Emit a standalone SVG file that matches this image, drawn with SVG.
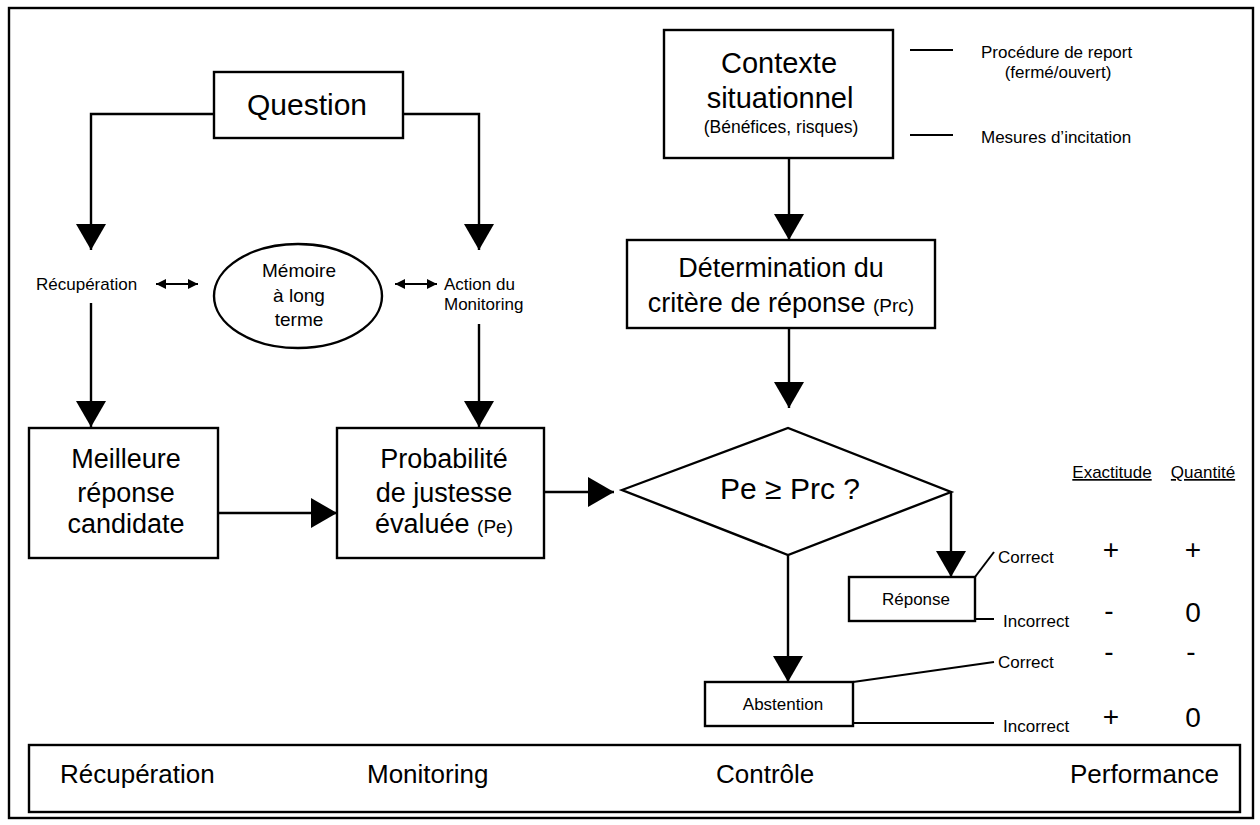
<svg xmlns="http://www.w3.org/2000/svg" width="1260" height="825" viewBox="0 0 1260 825">
<style>
text{font-family:"Liberation Sans",Arial,sans-serif;fill:#000}
.box{fill:#fff;stroke:#000;stroke-width:2.4}
.ln{fill:none;stroke:#000;stroke-width:2.4}
.thin{fill:none;stroke:#000;stroke-width:2}
.big{font-size:27px;text-anchor:middle}
.sm{font-size:17px}
.smc{font-size:17px;text-anchor:middle}
.val{font-size:28px;text-anchor:middle}
.bar{font-size:26px}
</style>
<defs>
<marker id="ah" viewBox="0 0 26 30" refX="26" refY="15" markerWidth="26" markerHeight="30" markerUnits="userSpaceOnUse" orient="auto">
<path d="M0,0 L26,15 L0,30 Z" fill="#000"/>
</marker>
<marker id="sa" viewBox="0 0 10 10" refX="10" refY="5" markerWidth="10" markerHeight="10" markerUnits="userSpaceOnUse" orient="auto-start-reverse">
<path d="M0,0 L10,5 L0,10 Z" fill="#000"/>
</marker>
</defs>
<rect x="0" y="0" width="1260" height="825" fill="#fff"/>
<rect x="9" y="8" width="1244" height="810" fill="none" stroke="#000" stroke-width="2.4"/>

<g id="connectors">
<polyline class="ln" points="214,114 91,114 91,250" marker-end="url(#ah)"/>
<polyline class="ln" points="403,114 479,114 479,250" marker-end="url(#ah)"/>
<line class="ln" x1="91" y1="303" x2="91" y2="427" marker-end="url(#ah)"/>
<line class="ln" x1="479" y1="324" x2="479" y2="427" marker-end="url(#ah)"/>
<line class="thin" x1="156" y1="284" x2="198" y2="284" marker-start="url(#sa)" marker-end="url(#sa)"/>
<line class="thin" x1="395" y1="284" x2="437" y2="284" marker-start="url(#sa)" marker-end="url(#sa)"/>
<line class="ln" x1="218" y1="513" x2="337" y2="513" marker-end="url(#ah)"/>
<line class="ln" x1="544" y1="492" x2="614" y2="492" marker-end="url(#ah)"/>
<line class="ln" x1="789" y1="158" x2="789" y2="240" marker-end="url(#ah)"/>
<line class="ln" x1="789" y1="328" x2="789" y2="408" marker-end="url(#ah)"/>
<polyline class="ln" points="951,492 951,577" marker-end="url(#ah)"/>
<line class="ln" x1="788" y1="555" x2="788" y2="682" marker-end="url(#ah)"/>
<line class="thin" x1="910" y1="50" x2="953" y2="50"/>
<line class="thin" x1="910" y1="135" x2="953" y2="135"/>
<line class="thin" x1="975" y1="577" x2="994" y2="552"/>
<line class="thin" x1="975" y1="619" x2="994" y2="619"/>
<line class="thin" x1="853" y1="682" x2="994" y2="662"/>
<line class="thin" x1="853" y1="723" x2="994" y2="723"/>
</g>

<g id="question">
<rect class="box" x="214" y="72" width="189" height="66"/>
<text x="307" y="115" font-size="30" text-anchor="middle">Question</text>
</g>

<g id="recuperation-label">
<text class="sm" x="36" y="290">Récupération</text>
</g>

<g id="memoire">
<ellipse class="box" cx="298" cy="296" rx="84" ry="52"/>
<text x="299" y="277" font-size="19" text-anchor="middle">Mémoire</text>
<text x="299" y="302" font-size="19" text-anchor="middle">à long</text>
<text x="299" y="326" font-size="19" text-anchor="middle">terme</text>
</g>

<g id="action-label">
<text class="sm" x="444" y="290">Action du</text>
<text class="sm" x="444" y="310">Monitoring</text>
</g>

<g id="meilleure">
<rect class="box" x="29" y="428" width="189" height="130"/>
<text class="big" x="126" y="468">Meilleure</text>
<text class="big" x="126" y="502">réponse</text>
<text class="big" x="126" y="533">candidate</text>
</g>

<g id="probabilite">
<rect class="box" x="337" y="428" width="207" height="130"/>
<text class="big" x="444" y="468">Probabilité</text>
<text class="big" x="444" y="502">de justesse</text>
<text class="big" x="444" y="533">évaluée <tspan font-size="19">(Pe)</tspan></text>
</g>

<g id="contexte">
<rect class="box" x="664" y="30" width="229" height="128"/>
<text x="779" y="73" font-size="29" text-anchor="middle">Contexte</text>
<text x="780" y="108" font-size="29" text-anchor="middle">situationnel</text>
<text x="781" y="133" font-size="17.5" text-anchor="middle">(Bénéfices, risques)</text>
</g>

<g id="contexte-notes">
<text class="sm" x="981" y="58">Procédure de report</text>
<text class="smc" x="1058" y="78">(fermé/ouvert)</text>
<text class="sm" x="981" y="143">Mesures d’incitation</text>
</g>

<g id="determination">
<rect class="box" x="627" y="240" width="308" height="88"/>
<text class="big" x="781" y="277">Détermination du</text>
<text class="big" x="781" y="312">critère de réponse <tspan font-size="19">(Prc)</tspan></text>
</g>

<g id="decision">
<polygon class="box" points="622,490 788,428 951,492 788,555"/>
<text x="790" y="499" font-size="30" text-anchor="middle">Pe ≥ Prc ?</text>
</g>

<g id="reponse">
<rect class="box" x="849" y="577" width="126" height="44"/>
<text class="smc" x="916" y="605">Réponse</text>
</g>

<g id="abstention">
<rect class="box" x="705" y="682" width="148" height="44"/>
<text class="smc" x="783" y="710">Abstention</text>
</g>

<g id="outcomes">
<text class="sm" x="998" y="563">Correct</text>
<text class="sm" x="1003" y="627">Incorrect</text>
<text class="sm" x="998" y="668">Correct</text>
<text class="sm" x="1003" y="732">Incorrect</text>
</g>

<g id="performance-table">
<text class="smc" x="1112" y="478" text-decoration="underline">Exactitude</text>
<text class="smc" x="1203" y="478" text-decoration="underline">Quantité</text>
<text class="val" x="1111" y="559">+</text>
<text class="val" x="1193" y="559">+</text>
<text class="val" x="1109" y="620">-</text>
<text class="val" x="1193" y="622">0</text>
<text class="val" x="1109" y="661">-</text>
<text class="val" x="1191" y="661">-</text>
<text class="val" x="1111" y="726">+</text>
<text class="val" x="1193" y="727">0</text>
</g>

<g id="phases">
<rect class="box" x="29" y="745" width="1211" height="67"/>
<text class="bar" x="60" y="783">Récupération</text>
<text class="bar" x="367" y="783">Monitoring</text>
<text class="bar" x="716" y="783">Contrôle</text>
<text class="bar" x="1070" y="783">Performance</text>
</g>
</svg>
